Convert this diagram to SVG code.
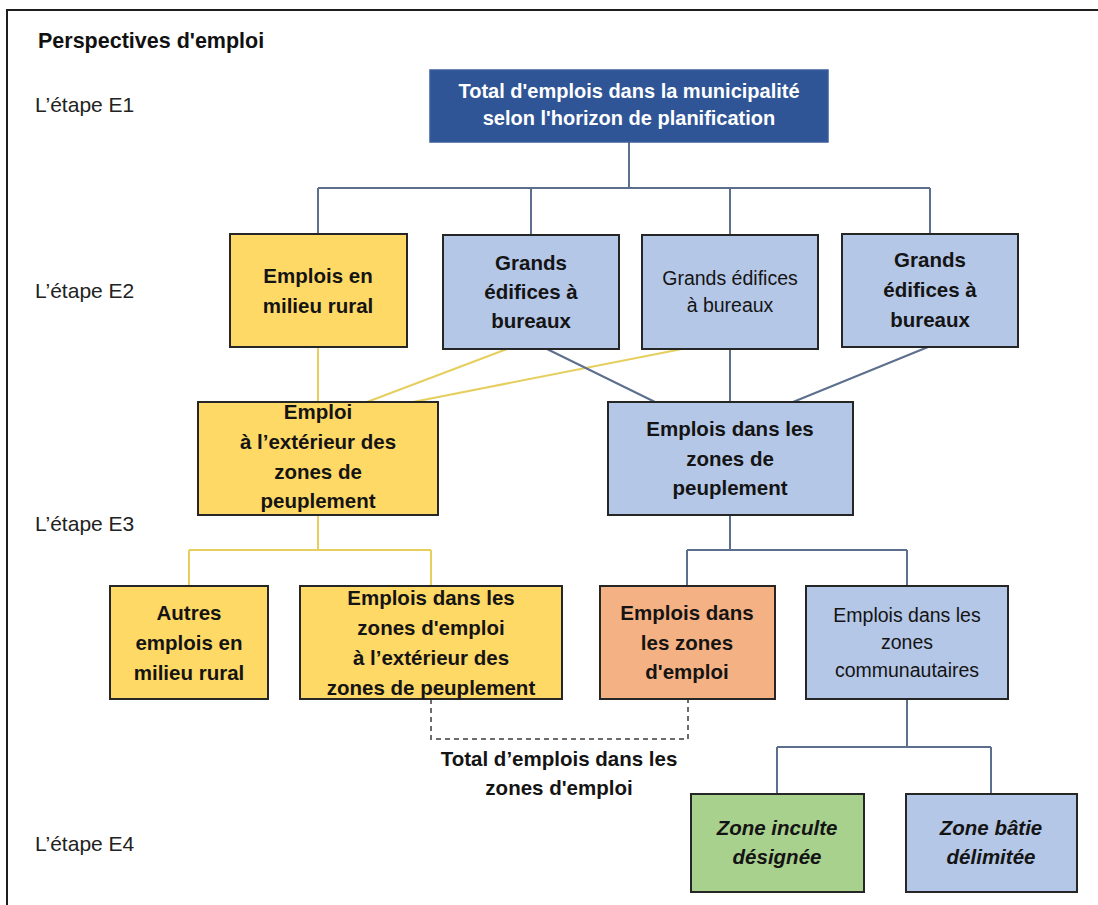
<svg xmlns="http://www.w3.org/2000/svg" width="1098" height="905" viewBox="0 0 1098 905">
<style>
text{font-family:"Liberation Sans",Arial,sans-serif;text-anchor:middle;fill:#141414}
.b{font-weight:bold;font-size:20.5px}
.r{font-size:19.5px}
.bi{font-weight:bold;font-style:italic;font-size:20.5px}
.w{fill:#fff;font-weight:bold;font-size:20px}
.lab{font-size:21px;text-anchor:start;fill:#222}
.box{stroke:#262626;stroke-width:2}
.y{fill:#FFD966}.bl{fill:#B4C7E7}.o{fill:#F4B183}.g{fill:#A9D18E}
.cb{stroke:#5C6F8C;stroke-width:2;fill:none}
.cy{stroke:#E6CF5E;stroke-width:2;fill:none}
.cd{stroke:#6b6b6b;stroke-width:2;fill:none;stroke-dasharray:5 4}
</style>
<rect width="1098" height="905" fill="#fff"/>
<path d="M7,905 V10 H1098" fill="none" stroke="#1e1e1e" stroke-width="2"/>
<g id="labels">
<text x="38" y="48" class="lab" style="font-weight:bold;font-size:21.5px;fill:#111">Perspectives d'emploi</text>
<text x="35" y="112" class="lab">L’étape E1</text>
<text x="35" y="298" class="lab">L’étape E2</text>
<text x="35" y="531" class="lab">L’étape E3</text>
<text x="35" y="851" class="lab">L’étape E4</text>
</g>
<g id="connectors">
<path class="cb" d="M629,142 V188 M318,188 H930 M318,188 V234 M531,188 V235 M730,188 V235 M930,188 V234"/>
<path class="cy" d="M318,347 V402 M507,349 L367,402 M682,349 L413,402"/>
<path class="cb" d="M547,349 L655,402 M730,349 V402 M928,347 L793,402"/>
<path class="cy" d="M318,515 V550 M189,550 H431 M189,550 V586 M431,550 V586"/>
<path class="cb" d="M730,515 V550 M687,550 H907 M687,550 V586 M907,550 V586"/>
<path class="cb" d="M907,699 V747 M777,747 H991 M777,747 V794 M991,747 V794"/>
<path class="cd" d="M431,699 V739 H688 V699"/>
</g>
<g id="n-total">
<rect x="430" y="70" width="398" height="72" fill="#2F5597" stroke="#3A5E9C" stroke-width="1.5"/>
<text x="629" y="98" class="w">Total d'emplois dans la municipalité</text>
<text x="629" y="125" class="w">selon l'horizon de planification</text>
</g>
<g id="n-rural">
<rect x="230" y="234" width="177" height="113" class="box y"/>
<text x="318" y="283" class="b">Emplois en</text>
<text x="318" y="313" class="b">milieu rural</text>
</g>
<g id="n-grands1">
<rect x="443" y="235" width="176" height="114" class="box bl"/>
<text x="531" y="270" class="b">Grands</text>
<text x="531" y="299" class="b">édifices à</text>
<text x="531" y="328" class="b">bureaux</text>
</g>
<g id="n-grands2">
<rect x="642" y="235" width="176" height="114" class="box bl"/>
<text x="730" y="285" class="r">Grands édifices</text>
<text x="730" y="312" class="r">à bureaux</text>
</g>
<g id="n-grands3">
<rect x="842" y="234" width="176" height="113" class="box bl"/>
<text x="930" y="267" class="b">Grands</text>
<text x="930" y="297" class="b">édifices à</text>
<text x="930" y="327" class="b">bureaux</text>
</g>
<g id="n-exterieur">
<rect x="198" y="402" width="240" height="113" class="box y"/>
<text x="318" y="419" class="b">Emploi</text>
<text x="318" y="449" class="b">à l’extérieur des</text>
<text x="318" y="479" class="b">zones de</text>
<text x="318" y="508" class="b">peuplement</text>
</g>
<g id="n-peuplement">
<rect x="608" y="402" width="245" height="113" class="box bl"/>
<text x="730" y="436" class="b">Emplois dans les</text>
<text x="730" y="466" class="b">zones de</text>
<text x="730" y="495" class="b">peuplement</text>
</g>
<g id="n-autres">
<rect x="110" y="586" width="158" height="113" class="box y"/>
<text x="189" y="620" class="b">Autres</text>
<text x="189" y="650" class="b">emplois en</text>
<text x="189" y="680" class="b">milieu rural</text>
</g>
<g id="n-zones-ext">
<rect x="300" y="586" width="262" height="113" class="box y"/>
<text x="431" y="605" class="b">Emplois dans les</text>
<text x="431" y="635" class="b">zones d'emploi</text>
<text x="431" y="665" class="b">à l’extérieur des</text>
<text x="431" y="695" class="b">zones de peuplement</text>
</g>
<g id="n-zones-emploi">
<rect x="600" y="586" width="175" height="113" class="box o"/>
<text x="687" y="620" class="b">Emplois dans</text>
<text x="687" y="650" class="b">les zones</text>
<text x="687" y="679" class="b">d'emploi</text>
</g>
<g id="n-communautaires">
<rect x="806" y="586" width="202" height="113" class="box bl"/>
<text x="907" y="622" class="r">Emplois dans les</text>
<text x="907" y="649" class="r">zones</text>
<text x="907" y="677" class="r">communautaires</text>
</g>
<g id="n-total-zones">
<text x="559" y="766" class="b">Total d’emplois dans les</text>
<text x="559" y="795" class="b">zones d'emploi</text>
</g>
<g id="n-inculte">
<rect x="691" y="794" width="173" height="98" class="box g"/>
<text x="777" y="835" class="bi">Zone inculte</text>
<text x="777" y="864" class="bi">désignée</text>
</g>
<g id="n-batie">
<rect x="906" y="794" width="171" height="98" class="box bl"/>
<text x="991" y="835" class="bi">Zone bâtie</text>
<text x="991" y="864" class="bi">délimitée</text>
</g>
</svg>
